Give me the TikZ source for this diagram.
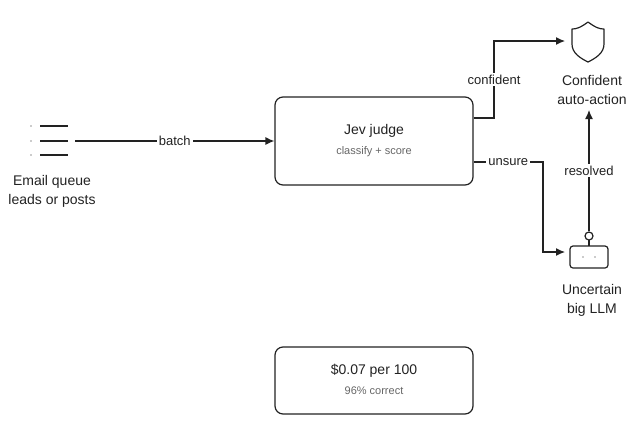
\documentclass[tikz,border=0pt]{standalone}
\usepackage{fontspec}
\setmainfont{Liberation Sans}
\usetikzlibrary{arrows.meta}
\definecolor{ink}{HTML}{222222}
\definecolor{soft}{HTML}{666666}
\begin{document}
\begin{tikzpicture}[x=1pt,y=-1pt,line width=1.2pt,
  box/.style={draw=ink,rounded corners=8pt,minimum width=198pt,minimum height=88pt,inner sep=0pt},
  lbl/.style={text=ink,font=\fontsize{14}{19}\selectfont,align=center},
  tag/.style={fill=white,text=ink,font=\fontsize{13}{15}\selectfont,inner sep=2pt},
  sub/.style={text=soft,font=\fontsize{11}{13}\selectfont},
  flow/.style={draw=ink,-{Latex[length=9pt,width=8pt]}}]
\useasboundingbox (0,0) rectangle (635,432);
% judge and cost
\node[box] (judge) at (374,141) {};
\node[lbl] at (374,131) {Jev judge};
\node[sub] at (374,152) {classify + score};
\node[box,minimum height=67pt] (cost) at (374,380.5) {};
\node[lbl] at (374,371) {\$0.07 per 100};
\node[sub] at (374,391) {96\% correct};
% queue icon
\foreach \y in {126,141,155} {
  \draw[ink] (40,\y) -- (68,\y);
  \fill[ink] (31,\y) circle (0.7pt);
}
\coordinate (queue) at (75,141);
\node[lbl] (qlabel) at (52,191) {Email queue\\leads or posts};
% shield
\draw[ink,line join=round] (588,22) .. controls (580,28) and (576,29) .. (572,29)
  -- (572,44) .. controls (572,53) and (580,58) .. (588,62)
  .. controls (596,58) and (604,53) .. (604,44) -- (604,29)
  .. controls (600,29) and (596,28) .. (588,22);
\coordinate (shield) at (565,41);
\node[lbl] (clabel) at (592,90) {Confident\\auto-action};
% robot
\draw[ink,rounded corners=3pt] (570,246) rectangle (608,268);
\draw[ink] (589,240) -- (589,246);
\draw[ink,fill=white] (589,236) circle (4pt);
\fill[ink] (583,257) circle (0.6pt) (595,257) circle (0.6pt);
\coordinate (robot) at (565,252);
\coordinate (robottop) at (589,231);
\node[lbl] (ulabel) at (592,300) {Uncertain\\big LLM};
% connectors
\draw[flow] (queue) -- node[tag] {batch} (judge.west);
\draw[flow] (judge.east |- 0,118) -- (494,118) -- node[tag,pos=0.5] {confident} (494,41) -- (shield);
\draw[flow] (judge.east |- 0,162) -- node[tag,pos=0.5] {unsure} (543,162) -- (543,252) -- (robot);
\draw[flow] (robottop) -- node[tag] {resolved} (589,110);
\end{tikzpicture}
\end{document}
